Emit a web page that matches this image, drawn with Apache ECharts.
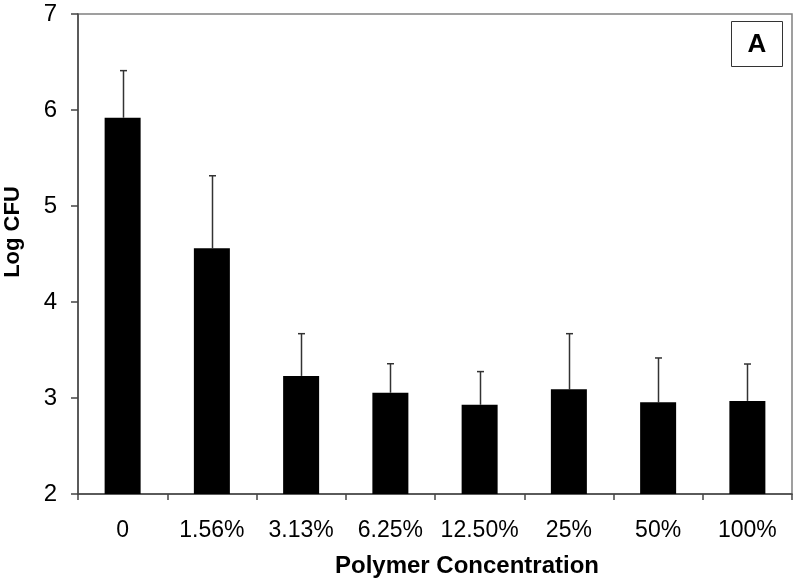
<!DOCTYPE html>
<html>
<head>
<meta charset="utf-8">
<script src="https://cdn.jsdelivr.net/npm/echarts@6/dist/echarts.min.js"></script>
<style>html,body{margin:0;padding:0;background:#fff;}#c{width:798px;height:585px;}</style>
</head>
<body>
<div id="c"></div>
<script>
var categories = ['0', '1.56%', '3.13%', '6.25%', '12.50%', '25%', '50%', '100%'];
var logCFU = [5.92, 4.56, 3.23, 3.055, 2.93, 3.09, 2.955, 2.97];
var errorTop = [6.41, 5.315, 3.67, 3.357, 3.275, 3.67, 3.417, 3.354];
var yTicks = [2, 3, 4, 5, 6, 7];

var chart = echarts.init(document.getElementById('c'), null, {renderer: 'canvas'});
var font = '"Liberation Sans", Arial, sans-serif';
chart.setOption({
  animation: false,
  backgroundColor: '#fff',
  grid: {left: 78, right: 6, top: 14, bottom: 91, containLabel: false, outerBoundsMode: 'none', show: true, borderColor: '#808080', borderWidth: 1.5, backgroundColor: 'transparent'},
  xAxis: {
    type: 'category',
    data: categories,
    name: 'Polymer Concentration',
    nameLocation: 'middle',
    nameGap: 60,
    nameTextStyle: {fontFamily: font, fontSize: 24, fontWeight: 'bold', color: '#000', padding: [0, 0, 0, 64]},
    axisLine: {lineStyle: {color: '#444', width: 1.5}},
    axisTick: {show: true, inside: false, length: 6, lineStyle: {color: '#444', width: 1.5}},
    axisLabel: {fontFamily: font, fontSize: 23, color: '#000', margin: 25, interval: 0},
    splitLine: {show: false}
  },
  yAxis: {
    type: 'value',
    min: yTicks[0],
    max: yTicks[yTicks.length - 1],
    interval: 1,
    name: 'Log CFU',
    nameLocation: 'middle',
    nameGap: 54,
    nameTextStyle: {fontFamily: font, fontSize: 22, fontWeight: 'bold', color: '#000', padding: [0, 0, 0, 44]},
    axisLine: {show: true, lineStyle: {color: '#444', width: 1.5}},
    axisTick: {show: true, inside: false, length: 7, lineStyle: {color: '#444', width: 1.5}},
    axisLabel: {fontFamily: font, fontSize: 24, color: '#000', margin: 21},
    splitLine: {show: false}
  },
  series: [
    {
      type: 'bar',
      data: logCFU,
      barWidth: 36,
      itemStyle: {color: '#000'},
      z: 2
    },
    {
      type: 'custom',
      z: 1,
      data: categories.map(function (c, i) { return [i, logCFU[i], errorTop[i]]; }),
      renderItem: function (params, api) {
        var base = api.coord([api.value(0), api.value(1)]);
        var top = api.coord([api.value(0), api.value(2)]);
        var x = Math.round(base[0]) + 0.5;
        return {
          type: 'group',
          children: [
            {type: 'line', shape: {x1: x, y1: base[1], x2: x, y2: top[1]}, style: {stroke: '#333', lineWidth: 1.5}},
            {type: 'line', shape: {x1: x - 3.5, y1: top[1], x2: x + 3.5, y2: top[1]}, style: {stroke: '#333', lineWidth: 1.5}}
          ]
        };
      }
    }
  ],
  graphic: [
    {
      type: 'group',
      left: 731,
      top: 21,
      children: [
        {type: 'rect', shape: {x: 0, y: 0, width: 51, height: 45}, style: {fill: '#fff', stroke: '#333', lineWidth: 1}},
        {type: 'text', x: 25.5, y: 23, style: {text: 'A', font: 'bold 26px ' + font, fill: '#000', align: 'center', verticalAlign: 'middle'}}
      ]
    }
  ]
});
</script>
</body>
</html>
